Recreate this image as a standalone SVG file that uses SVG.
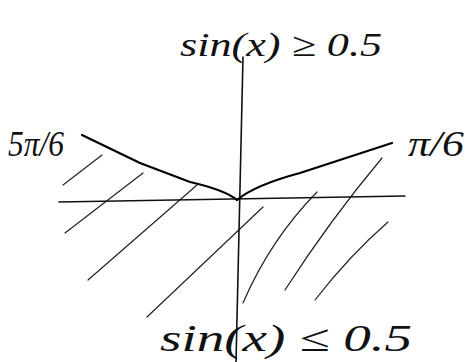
<svg xmlns="http://www.w3.org/2000/svg" width="474" height="362" viewBox="0 0 474 362">
<style>
.t{font-family:"Liberation Serif","DejaVu Serif",serif;font-style:italic;fill:#111}
.axis{stroke:#111;stroke-width:1.6;fill:none;stroke-linecap:round}
.curve{stroke:#000;stroke-width:2.2;fill:none;stroke-linecap:round;stroke-linejoin:round}
.hatch{stroke:#222;stroke-width:1.2;fill:none;stroke-linecap:round}
</style>
<rect width="474" height="362" fill="#fff"/>
<g id="hatching">
<path class="hatch" d="M63 185 L102 155"/>
<path class="hatch" d="M65 233 L143 173"/>
<path class="hatch" d="M88 280 L197 185"/>
<path class="hatch" d="M147 317 L263 207"/>
<path class="hatch" d="M243 303 Q270 240 317 192"/>
<path class="hatch" d="M285 290 Q330 220 382 158"/>
<path class="hatch" d="M315 300 Q350 255 388 222"/>
</g>
<g id="axes">
<path class="axis" d="M243 57 L236 362"/>
<path class="axis" d="M59 202 L405 196" stroke-width="1.8"/>
</g>
<g id="curves">
<path class="curve" d="M82 135 L140 163 L190 182 Q225 190 237 200"/>
<path class="curve" d="M237 200 Q255 185 300 173 L392 143"/>
</g>
<g id="labels">
<text class="t" x="180" y="56" font-size="34" textLength="202" lengthAdjust="spacingAndGlyphs">sin(x) ≥ 0.5</text>
<text class="t" x="160" y="351" font-size="38" textLength="252" lengthAdjust="spacingAndGlyphs">sin(x) ≤ 0.5</text>
<text class="t" x="8" y="156" font-size="36" textLength="56" lengthAdjust="spacingAndGlyphs">5π/6</text>
<text class="t" x="408" y="156" font-size="36" textLength="56" lengthAdjust="spacingAndGlyphs">π/6</text>
</g>
</svg>
